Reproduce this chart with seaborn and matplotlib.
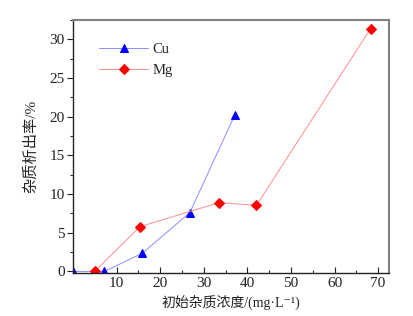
import matplotlib
matplotlib.use("Agg")
import matplotlib.pyplot as plt
import seaborn as sns
import pandas as pd
from matplotlib.ticker import MultipleLocator

cu_x = [0.0, 7.2, 15.9, 26.8, 37.1]
cu_y = [0.0, 0.0, 2.35, 7.6, 20.2]
mg_x = [5.1, 15.4, 33.5, 42.1, 68.3]
mg_y = [0.1, 5.8, 8.9, 8.55, 31.4]
x_label = "初始杂质浓度/(mg·L⁻¹)"
y_label = "杂质析出率/%"

sns.set_theme(style="white")
plt.rcParams['font.family'] = ['Liberation Serif', 'Noto Sans CJK SC', 'DejaVu Sans']

fig = plt.figure(figsize=(4.14, 3.16), dpi=100)
ax = fig.add_axes([0.1763, 0.136, 0.7633, 0.8007])

sns.lineplot(x=cu_x, y=cu_y, ax=ax, color='#8c8cff', linewidth=0.7,
             marker='^', markersize=5.5, markerfacecolor='#0000ff',
             markeredgecolor='#0000ff', label='Cu', sort=False)
sns.lineplot(x=mg_x, y=mg_y, ax=ax, color='#ff8c8c', linewidth=0.7,
             marker='D', markersize=4.8, markerfacecolor='#ff0000',
             markeredgecolor='#ff0000', label='Mg', sort=False)

ax.set_xlim(0, 72.5)
ax.set_ylim(-0.2, 32.5)
ax.set_xticks([10, 20, 30, 40, 50, 60, 70])
ax.set_yticks([0, 5, 10, 15, 20, 25, 30])
ax.xaxis.set_minor_locator(MultipleLocator(5))
ax.yaxis.set_minor_locator(MultipleLocator(2.5))

ax.tick_params(axis='x', which='major', direction='in', length=4, width=0.8,
               labelsize=11, colors='#222222', bottom=True, pad=3)
ax.tick_params(axis='x', which='minor', direction='in', length=2.5, width=0.8, bottom=True)
ax.tick_params(axis='y', which='major', direction='out', length=4, width=0.8,
               labelsize=11, colors='#222222', left=True, pad=2)
ax.tick_params(axis='y', which='minor', direction='out', length=2.5, width=0.8, left=True)

for s in ['left', 'bottom']:
    ax.spines[s].set_color('#222222')
    ax.spines[s].set_linewidth(1.0)
for s in ['top', 'right']:
    ax.spines[s].set_color('#808080')
    ax.spines[s].set_linewidth(1.5)

ax.set_xlabel(x_label, fontsize=10, color='#222222',
              family=['Liberation Serif', 'Noto Sans CJK SC', 'DejaVu Sans'], labelpad=3)
ax.set_ylabel(y_label, fontsize=11, color='#222222',
              family=['Liberation Serif', 'Noto Sans CJK SC', 'DejaVu Sans'], labelpad=8)

leg = ax.legend(loc='upper left', frameon=False, fontsize=10.5, handlelength=3.4,
                bbox_to_anchor=(0.04, 0.96), labelspacing=0.5, handletextpad=0.3)

fig.savefig("out.png", dpi=100)
